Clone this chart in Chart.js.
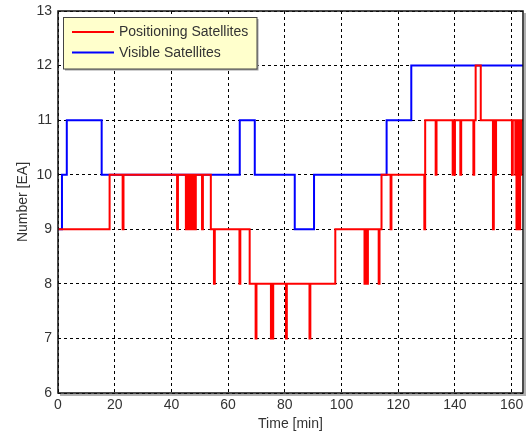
<!DOCTYPE html>
<html><head><meta charset="utf-8">
<script src="https://cdn.jsdelivr.net/npm/chart.js@4.4.1/dist/chart.umd.min.js"></script>
<style>html,body{margin:0;padding:0;background:#fff}#wrap{width:530px;height:434px}</style>
</head><body><div id="wrap"><canvas id="c" width="530" height="434"></canvas></div>
<script>
const seriesNames = ['Positioning Satellites', 'Visible Satellites'];
const redTimes = [0, 18.2, 22.8, 23.1, 42.0, 42.3, 45.1, 45.4, 45.6, 45.9, 46.1, 46.4, 46.5, 46.8,
  47.4, 47.7, 48.3, 48.6, 50.8, 51.1, 53.9, 55.0, 55.3, 64.0, 64.3, 67.6, 69.7, 70.0,
  75.1, 75.4, 75.6, 75.9, 80.4, 80.7, 88.7, 89.0, 97.8, 108.1, 108.5, 108.8, 109.3,
  113.1, 113.4, 114.1, 117.3, 117.6, 129.2, 129.5, 133.2, 133.5, 139.2, 139.5, 139.7, 140.0,
  141.9, 142.2, 146.5, 146.8, 147.3, 149.1, 153.4, 153.7, 154.2, 154.5, 160.1, 160.4,
  161.3, 161.6, 161.7, 162.0, 162.2, 162.5, 162.7, 163.0, 163.2, 163.5, 164];
const redCounts = [9, 10, 9, 10, 9, 10, 9, 10, 9, 10, 9, 10, 9, 10,
  9, 10, 9, 10, 9, 10, 9, 8, 9, 8, 9, 8, 7, 8,
  7, 8, 7, 8, 7, 8, 7, 8, 9, 8, 9, 8, 9,
  8, 9, 10, 9, 10, 9, 11, 10, 11, 10, 11, 10, 11,
  10, 11, 10, 11, 12, 11, 9, 11, 10, 11, 10, 11,
  10, 11, 9, 11, 10, 11, 9, 11, 10, 11, 11];
const blueTimes = [0, 1.4, 3.1, 15.4, 64.1, 69.4, 83.5, 90.3, 115.9, 124.6, 164];
const blueCounts = [9, 10, 11, 10, 11, 10, 9, 10, 11, 12, 12];
const xTicks = [0, 20, 40, 60, 80, 100, 120, 140, 160];
const yTicks = [6, 7, 8, 9, 10, 11, 12, 13];
const xLimits = [0, 164];
const yLimits = [6, 13];

const toPoints = (ts, vs) => ts.map((t, i) => ({x: t, y: vs[i]}));
const FONT = "'Liberation Sans', Arial, sans-serif";
const TXT = '#333';

const framePlugin = {
  id: 'frame',
  afterDraw(chart) {
    const {ctx, chartArea: a} = chart;
    ctx.save();
    ctx.strokeStyle = '#b0b0b0'; ctx.lineWidth = 2;
    ctx.beginPath();
    ctx.moveTo(a.left + 2, a.bottom + 2); ctx.lineTo(a.right + 2, a.bottom + 2); ctx.lineTo(a.right + 2, a.top + 2);
    ctx.stroke();
    ctx.strokeStyle = '#111'; ctx.lineWidth = 1.5;
    ctx.strokeRect(a.left, a.top, a.right - a.left, a.bottom - a.top);
    // legend
    const lx = 63.5, ly = 17.5, lw = 193.5, lh = 51.5;
    ctx.fillStyle = '#a0a0a0';
    ctx.fillRect(lx + 1.5, ly + 1.5, lw, lh);
    ctx.fillStyle = '#ffffcc';
    ctx.fillRect(lx, ly, lw, lh);
    ctx.strokeStyle = '#444'; ctx.lineWidth = 1;
    ctx.strokeRect(lx, ly, lw, lh);
    ctx.font = '14px ' + FONT;
    ctx.textBaseline = 'middle';
    chart.data.datasets.forEach((ds, i) => {
      const y = 32 + i * 20.5;
      ctx.strokeStyle = ds.borderColor; ctx.lineWidth = 2;
      ctx.beginPath(); ctx.moveTo(72, y); ctx.lineTo(114, y); ctx.stroke();
      ctx.fillStyle = TXT;
      ctx.fillText(ds.label, 119, y + 0.5);
    });
    ctx.restore();
  }
};

new Chart(document.getElementById('c'), {
  type: 'line',
  data: {
    datasets: [
      {label: seriesNames[0], data: toPoints(redTimes, redCounts), borderColor: '#ff0000', borderWidth: 2, stepped: 'before', pointRadius: 0, fill: false},
      {label: seriesNames[1], data: toPoints(blueTimes, blueCounts), borderColor: '#0000ff', borderWidth: 2, stepped: 'before', pointRadius: 0, fill: false}
    ]
  },
  options: {
    responsive: false,
    animation: false,
    devicePixelRatio: 1,
    layout: {padding: {left: 0, top: 11, right: 7, bottom: 0}},
    plugins: {legend: {display: false}, tooltip: {enabled: false}},
    scales: {
      x: {
        type: 'linear', min: xLimits[0], max: xLimits[1],
        afterBuildTicks: s => { s.ticks = xTicks.map(v => ({value: v})); },
        afterFit: s => { s.height = 41; s.paddingLeft = 0; s.paddingRight = 0; },
        grid: {color: '#000', lineWidth: 1, drawTicks: false},
        border: {display: false, dash: [3, 3]},
        ticks: {color: TXT, font: {family: FONT, size: 14}, padding: 4, maxRotation: 0},
        title: {display: true, text: 'Time [min]', color: TXT, font: {family: FONT, size: 14}, padding: {top: 0, bottom: 1}}
      },
      y: {
        type: 'linear', min: yLimits[0], max: yLimits[1],
        afterBuildTicks: s => { s.ticks = yTicks.map(v => ({value: v})); },
        afterFit: s => { s.width = 58; s.paddingTop = 0; s.paddingBottom = 0; },
        grid: {color: '#000', lineWidth: 1, drawTicks: false},
        border: {display: false, dash: [3, 3]},
        ticks: {color: TXT, font: {family: FONT, size: 14}, padding: 6},
        title: {display: true, text: 'Number [EA]', color: TXT, font: {family: FONT, size: 14}, padding: {top: 15, bottom: 0}}
      }
    }
  },
  plugins: [framePlugin]
});
</script></body></html>
